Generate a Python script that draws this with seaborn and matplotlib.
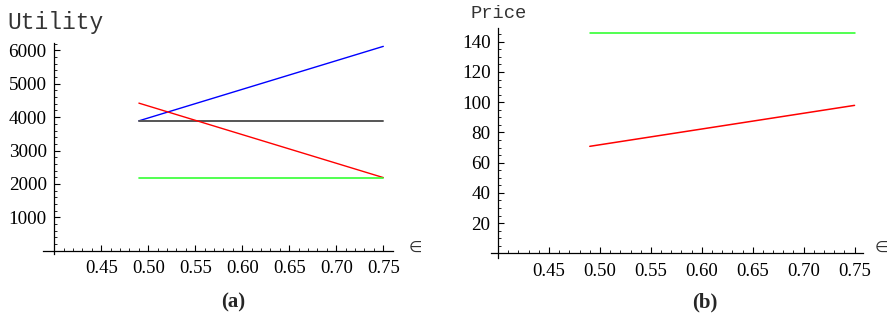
import numpy as np
import pandas as pd
import matplotlib
matplotlib.use("Agg")
import matplotlib.pyplot as plt
import seaborn as sns

sns.set_style("white")
plt.rcParams['font.family'] = ['Liberation Serif', 'DejaVu Serif']

# ---- data ----
eps = [0.49, 0.75]
util_blue = [3890, 6120]
util_gray = [3890, 3890]
util_red = [4420, 2190]
util_green = [2190, 2190]
price_green = [146, 146]
price_red = [70.8, 97.9]

xticks_major = [0.45, 0.50, 0.55, 0.60, 0.65, 0.70, 0.75]
xtick_labels = ["0.45", "0.50", "0.55", "0.60", "0.65", "0.70", "0.75"]
yticks_a = [1000, 2000, 3000, 4000, 5000, 6000]
yticks_b = [20, 40, 60, 80, 100, 120, 140]

W, H = 891, 320
fig = plt.figure(figsize=(W / 100, H / 100), dpi=100)

def px_axes(x0, x1, ytop, ybot):
    return fig.add_axes([x0 / W, (H - ybot) / H, (x1 - x0) / W, (ybot - ytop) / H])

ax_a = px_axes(43.3, 392.7, 42.7, 254.3)
ax_b = px_axes(491.0, 862.7, 28.3, 257.7)

def style(ax, xlim, ylim, yticks, yminor):
    ax.set_xlim(*xlim)
    ax.set_ylim(*ylim)
    for s in ("top", "right"):
        ax.spines[s].set_visible(False)
    ax.spines["left"].set_position(("data", 0.40))
    ax.spines["bottom"].set_position(("data", 0))
    for s in ("left", "bottom"):
        ax.spines[s].set_color("black")
        ax.spines[s].set_linewidth(0.9)
    ax.set_xticks(xticks_major)
    ax.set_xticklabels(xtick_labels)
    ax.set_xticks([round(v, 2) for v in np.arange(0.41, 0.755, 0.01)
                   if round(v, 2) not in xticks_major], minor=True)
    ax.set_yticks(yticks)
    ax.set_yticklabels([str(v) for v in yticks])
    ax.set_yticks([v for v in yminor if v not in yticks], minor=True)
    ax.tick_params(axis="both", which="both", bottom=True, left=True,
                   top=False, right=False)
    ax.tick_params(axis="both", which="major", direction="in", length=4,
                   width=0.8, labelsize=13.8, colors="black")
    ax.tick_params(axis="both", which="minor", direction="in", length=2.2,
                   width=0.6, colors="black")
    ax.tick_params(axis="x", which="major", pad=7, labelsize=13.5)
    ax.tick_params(axis="y", which="major", pad=5.5)
    ax.set_xlabel("")
    ax.set_ylabel("")
    ax.grid(False)

df_a = pd.DataFrame({"eps": eps * 4,
                     "val": util_blue + util_gray + util_red + util_green,
                     "series": ["blue"] * 2 + ["gray"] * 2 + ["red"] * 2 + ["green"] * 2})
palette_a = {"blue": "#0000ff", "gray": "#555555", "red": "#ff0000", "green": "#33ff33"}
widths_a = {"blue": 1.0, "gray": 1.4, "red": 1.0, "green": 1.2}
for name, sub in df_a.groupby("series", sort=False):
    sns.lineplot(data=sub, x="eps", y="val", ax=ax_a, color=palette_a[name],
                 linewidth=widths_a[name], legend=False)

df_b = pd.DataFrame({"eps": eps * 2,
                     "val": price_green + price_red,
                     "series": ["green"] * 2 + ["red"] * 2})
palette_b = {"green": "#22ff22", "red": "#ff0000"}
for name, sub in df_b.groupby("series", sort=False):
    sns.lineplot(data=sub, x="eps", y="val", ax=ax_b, color=palette_b[name],
                 linewidth=1.1, legend=False)

style(ax_a, (0.3883, 0.76), (-108, 6230), yticks_a, list(range(200, 6201, 200)))
style(ax_b, (0.393, 0.758), (-2.9, 148.9), yticks_b, list(range(5, 146, 5)))

mono = ['Liberation Mono', 'DejaVu Sans Mono']
fig.text(7 / W, 1 - 29 / H, "Utility", family=mono, fontsize=16.5, color="#333333",
         ha="left", va="baseline")
fig.text(470 / W, 1 - 18 / H, "Price", family=mono, fontsize=13.5, color="#333333",
         ha="left", va="baseline")
fig.text(415 / W, 1 - 247 / H, "∈", family=['DejaVu Sans'], fontsize=11, color="#333333",
         ha="center", va="center")
fig.text(881.5 / W, 1 - 247 / H, "∈", family=['DejaVu Sans'], fontsize=11, color="#333333",
         ha="center", va="center")
fig.text(233 / W, 1 - 302 / H, "(a)", fontsize=15, fontweight="bold", ha="center", va="center")
fig.text(705 / W, 1 - 302 / H, "(b)", fontsize=15, fontweight="bold", ha="center", va="center")

fig.savefig("out.png", dpi=100)
